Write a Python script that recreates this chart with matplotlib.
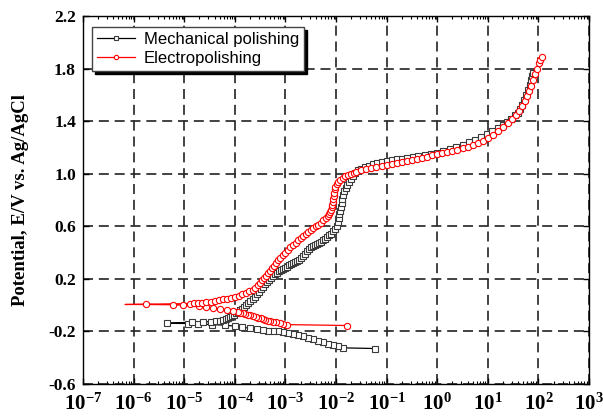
import numpy as np
import matplotlib
matplotlib.use("Agg")
import matplotlib.pyplot as plt
from matplotlib.ticker import LogLocator, FixedLocator, FuncFormatter, NullFormatter

# log10 of current density and potential in scan order
# (cathodic branch -> Ecorr -> anodic branch)
MP_LOGI = [-1.23, -1.86, -1.96, -2.06, -2.16, -2.26, -2.36, -2.45, -2.55, -2.65,
           -2.75, -2.85, -2.95, -3.05, -3.15, -3.25, -3.35, -3.44, -3.57, -3.70,
           -3.85, -4.00, -4.20, -4.45, -4.72, -4.92, -5.34,
           -4.85, -4.62, -4.48, -4.38, -4.30, -4.24, -4.18, -4.13, -4.09, -4.05,
           -4.01, -3.97, -3.93, -3.89, -3.85, -3.81, -3.77, -3.73, -3.69, -3.65,
           -3.61, -3.57, -3.53, -3.49, -3.45, -3.41, -3.37, -3.33, -3.29, -3.25,
           -3.21, -3.17, -3.13, -3.09, -3.05, -3.01, -2.97, -2.93, -2.89, -2.85,
           -2.81, -2.77, -2.73, -2.69, -2.65, -2.61, -2.57, -2.53, -2.49, -2.45,
           -2.41, -2.37, -2.33, -2.29, -2.25, -2.21, -2.17, -2.13, -2.09, -2.05,
           -2.01, -1.98, -1.96, -1.95, -1.94, -1.92, -1.91, -1.89, -1.88, -1.86,
           -1.84, -1.81, -1.78, -1.75, -1.71, -1.67, -1.62, -1.56, -1.50, -1.43,
           -1.35, -1.27, -1.18, -1.10, -1.00, -0.90, -0.80, -0.70, -0.60, -0.48,
           -0.37, -0.25, -0.12, 0.00, 0.12, 0.25, 0.38, 0.51, 0.63, 0.75,
           0.87, 0.98, 1.09, 1.20, 1.30, 1.38, 1.46, 1.53, 1.59, 1.64,
           1.68, 1.72, 1.76, 1.80, 1.83, 1.86, 1.88, 1.90]
MP_E = [-0.330, -0.325, -0.314, -0.304, -0.292, -0.280, -0.270, -0.260, -0.248, -0.237,
        -0.228, -0.220, -0.212, -0.205, -0.200, -0.196, -0.193, -0.190, -0.184, -0.176,
        -0.168, -0.160, -0.152, -0.148, -0.143, -0.140, -0.138,
        -0.130, -0.128, -0.125, -0.121, -0.117, -0.112, -0.106, -0.099, -0.092, -0.083,
        -0.073, -0.063, -0.052, -0.040, -0.028, -0.015, -0.002, 0.013, 0.028, 0.045,
        0.063, 0.082, 0.102, 0.122, 0.140, 0.158, 0.175, 0.192, 0.208, 0.222,
        0.235, 0.246, 0.256, 0.266, 0.275, 0.284, 0.293, 0.302, 0.310, 0.317,
        0.325, 0.333, 0.342, 0.355, 0.372, 0.392, 0.412, 0.428, 0.440, 0.450,
        0.458, 0.466, 0.474, 0.482, 0.492, 0.503, 0.516, 0.530, 0.545, 0.562,
        0.582, 0.605, 0.630, 0.660, 0.690, 0.720, 0.750, 0.780, 0.810, 0.840,
        0.865, 0.890, 0.912, 0.935, 0.960, 0.985, 1.008, 1.025, 1.038, 1.050,
        1.062, 1.072, 1.082, 1.090, 1.096, 1.102, 1.109, 1.115, 1.122, 1.130,
        1.138, 1.145, 1.152, 1.160, 1.172, 1.185, 1.202, 1.220, 1.240, 1.260,
        1.282, 1.305, 1.328, 1.350, 1.372, 1.392, 1.418, 1.443, 1.465, 1.490,
        1.525, 1.560, 1.600, 1.640, 1.675, 1.710, 1.740, 1.770]

EP_LOGI = [-1.78, -2.97, -3.04, -3.11, -3.18, -3.25, -3.30, -3.35, -3.40, -3.44,
           -3.49, -3.54, -3.59, -3.64, -3.69, -3.74, -3.79, -3.84, -3.89, -3.94,
           -4.04, -4.15, -4.29, -4.43, -4.56, -4.70, -5.02, -5.22, -5.75, -6.17,
           -4.88, -4.80, -4.72, -4.64, -4.56, -4.48, -4.40, -4.32, -4.24, -4.16,
           -4.08, -4.00, -3.92, -3.85, -3.78, -3.71, -3.65, -3.60, -3.55, -3.50,
           -3.46, -3.42, -3.38, -3.34, -3.30, -3.26, -3.22, -3.18, -3.14, -3.10,
           -3.05, -3.00, -2.95, -2.90, -2.85, -2.80, -2.75, -2.70, -2.65, -2.60,
           -2.55, -2.50, -2.45, -2.40, -2.35, -2.30, -2.25, -2.20, -2.16, -2.13,
           -2.11, -2.09, -2.08, -2.07, -2.06, -2.05, -2.04, -2.03, -2.02, -2.01,
           -1.99, -1.96, -1.92, -1.87, -1.82, -1.76, -1.70, -1.65,
           -1.60, -1.50, -1.40, -1.30, -1.20, -1.10, -1.00, -0.90, -0.80, -0.70,
           -0.60, -0.50, -0.40, -0.30, -0.20, -0.10, 0.00, 0.10, 0.20, 0.30,
           0.40, 0.50, 0.60, 0.70, 0.80, 0.90, 1.00, 1.10, 1.20, 1.30,
           1.40, 1.48, 1.55, 1.62, 1.68, 1.73, 1.77, 1.81, 1.85, 1.89,
           1.93, 1.97, 2.01, 2.04, 2.07]
EP_E = [-0.155, -0.148, -0.142, -0.137, -0.132, -0.127, -0.122, -0.117, -0.112, -0.107,
        -0.101, -0.095, -0.090, -0.084, -0.078, -0.072, -0.066, -0.061, -0.057, -0.053,
        -0.046, -0.038, -0.030, -0.023, -0.016, -0.008, -0.001, 0.003, 0.005, 0.005,
        0.012, 0.014, 0.016, 0.019, 0.023, 0.027, 0.032, 0.037, 0.043, 0.049,
        0.056, 0.063, 0.072, 0.082, 0.093, 0.105, 0.118, 0.133, 0.150, 0.168,
        0.188, 0.207, 0.225, 0.245, 0.262, 0.280, 0.300, 0.320, 0.340, 0.360,
        0.380, 0.400, 0.420, 0.440, 0.460, 0.475, 0.492, 0.510, 0.525, 0.540,
        0.555, 0.570, 0.585, 0.600, 0.613, 0.628, 0.645, 0.660, 0.675, 0.690,
        0.705, 0.725, 0.745, 0.765, 0.785, 0.805, 0.830, 0.855, 0.880, 0.900,
        0.920, 0.940, 0.955, 0.968, 0.980, 0.990, 1.000, 1.008,
        1.015, 1.027, 1.036, 1.044, 1.052, 1.060, 1.068, 1.076, 1.084, 1.092,
        1.100, 1.107, 1.115, 1.122, 1.130, 1.140, 1.148, 1.156, 1.164, 1.173,
        1.183, 1.193, 1.204, 1.218, 1.233, 1.250, 1.270, 1.295, 1.325, 1.355,
        1.385, 1.415, 1.445, 1.480, 1.515, 1.555, 1.590, 1.630, 1.670, 1.715,
        1.760, 1.800, 1.840, 1.865, 1.890]

LABELS = ["Mechanical polishing", "Electropolishing"]
Y_TICKS = [-0.6, -0.2, 0.2, 0.6, 1.0, 1.4, 1.8, 2.2]

plt.rcParams["font.family"] = "Liberation Serif"
plt.rcParams["mathtext.fontset"] = "custom"
plt.rcParams["mathtext.rm"] = "Liberation Serif:bold"
plt.rcParams["mathtext.bf"] = "Liberation Serif:bold"

fig = plt.figure(figsize=(6.03, 4.17), dpi=100)
ax = fig.add_axes([83 / 603, 33 / 417, 506 / 603, 368 / 417])

# open symbols with a thin connecting line, like the Origin export
ax.plot(10 ** np.array(MP_LOGI), MP_E, color="black", lw=0.9, marker="s", ms=4,
        mfc="white", mec="#3a3a3a", mew=0.8, label=LABELS[0], zorder=3)
# the first point of the scan near Ecorr has no symbol in the original
ep_marks = [i for i in range(len(EP_LOGI)) if i != 29]
ax.plot(10 ** np.array(EP_LOGI), EP_E, color="red", lw=0.9, marker="o", ms=4.5,
        mfc="white", mec="red", mew=0.8, markevery=ep_marks, label=LABELS[1], zorder=4)

ax.set_xscale("log")
ax.set_xlim(1e-7, 1e3)
ax.set_ylim(-0.6, 2.2)

ax.xaxis.set_major_locator(LogLocator(base=10, numticks=20))
ax.xaxis.set_minor_locator(LogLocator(base=10, subs=np.arange(2, 10), numticks=20))
ax.xaxis.set_minor_formatter(NullFormatter())
ax.xaxis.set_major_formatter(FuncFormatter(lambda v, p: r"$\mathbf{10^{%d}}$" % round(np.log10(v))))
ax.yaxis.set_major_locator(FixedLocator(Y_TICKS))
ax.yaxis.set_major_formatter(FuncFormatter(lambda v, p: f"{v:.1f}"))

ax.tick_params(which="both", direction="in", top=True, right=True)
ax.tick_params(which="major", length=4, width=1)
ax.tick_params(which="minor", length=2.5, width=0.8)
ax.tick_params(axis="x", which="major", pad=7, labelsize=15)
ax.tick_params(axis="y", which="major", pad=5, labelsize=12.5)
for lab in ax.get_yticklabels():
    lab.set_fontweight("bold")

ax.grid(True, which="major", color="#222222", lw=1.2, linestyle=(0, (6, 3.5)))
for sp in ax.spines.values():
    sp.set_linewidth(1.0)

ax.set_ylabel("Potential, E/V vs. Ag/AgCl", fontsize=13.5, fontweight="bold")
ax.yaxis.set_label_coords(-0.106, 0.5)

leg = ax.legend(loc="upper left", bbox_to_anchor=(92 / 603, 1 - 27 / 417),
                bbox_transform=fig.transFigure, borderaxespad=0,
                prop={"family": "Liberation Sans", "size": 12},
                markerscale=0.7, handlelength=2.3, handletextpad=0.5,
                labelspacing=0.25, borderpad=0.3, fancybox=False,
                shadow={"color": "black", "alpha": 1.0}, framealpha=1.0)
leg.get_frame().set_edgecolor("#444444")
leg.get_frame().set_linewidth(1.0)

fig.savefig("out.png", dpi=100)
